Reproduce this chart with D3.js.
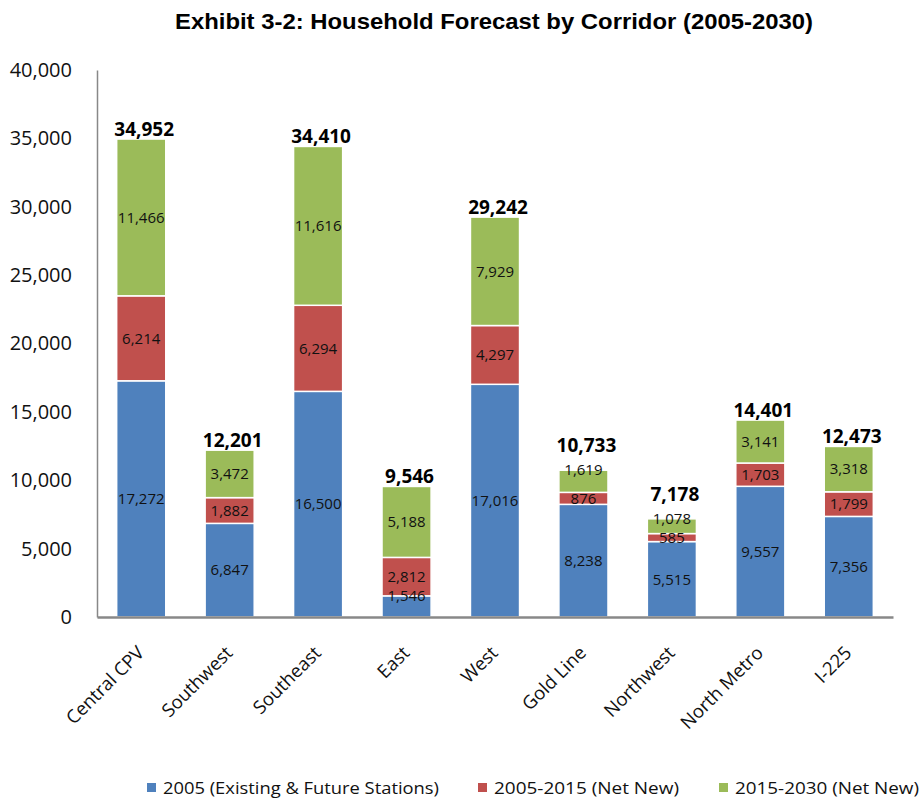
<!DOCTYPE html>
<html><head><meta charset="utf-8">
<script src="https://cdn.jsdelivr.net/npm/d3@7"></script>
<style>body{margin:0;background:#fff}svg{display:block}</style>
</head><body>
<svg id="chart" width="920" height="802"></svg>
<script>
const categories = ["Central CPV","Southwest","Southeast","East","West","Gold Line","Northwest","North Metro","I-225"];
const s2005 = [17272, 6847, 16500, 1546, 17016, 8238, 5515, 9557, 7356];
const s2015 = [6214, 1882, 6294, 2812, 4297, 876, 585, 1703, 1799];
const s2030 = [11466, 3472, 11616, 5188, 7929, 1619, 1078, 3141, 3318];
const totals = [34952, 12201, 34410, 9546, 29242, 10733, 7178, 14401, 12473];
const seriesNames = ["2005 (Existing & Future Stations)", "2005-2015 (Net New)", "2015-2030 (Net New)"];
const yTicks = [0, 5000, 10000, 15000, 20000, 25000, 30000, 35000, 40000];
const colors = ["#4F81BD", "#C0504D", "#9BBB59"];

const svg = d3.select("#chart");
const m = {left: 97, right: 893, top: 70, bottom: 617};
const x = d3.scaleBand().domain(categories).range([m.left, m.right]).paddingInner(0.445).paddingOuter(0.2225);
const y = d3.scaleLinear().domain([0, 40000]).range([m.bottom, m.top]);
const fmt = d3.format(",");

const rows = categories.map((c, i) => ({cat: c, a: s2005[i], b: s2015[i], c: s2030[i]}));
const stack = d3.stack().keys(["a", "b", "c"])(rows);

svg.append("text").attr("x", 494).attr("y", 29).attr("text-anchor", "middle")
  .attr("font-family", "Liberation Sans, Arial, sans-serif").attr("font-weight", "bold").attr("font-size", 22)
  .attr("textLength", 638).attr("lengthAdjust", "spacingAndGlyphs")
  .text("Exhibit 3-2: Household Forecast by Corridor (2005-2030)");

// y axis
const yAxis = svg.append("g").attr("transform", `translate(${m.left},0)`)
  .call(d3.axisLeft(y).tickValues(yTicks).tickFormat(fmt).tickSize(0).tickPadding(25));
yAxis.select(".domain").attr("stroke", "#888").attr("stroke-width", 1.5);
yAxis.selectAll("text").attr("font-family", "Open Sans, sans-serif").attr("font-size", 20).attr("fill", "#111");

// bars
const g = svg.append("g");
stack.forEach((layer, li) => {
  g.selectAll(null).data(layer).enter().append("rect")
    .attr("x", d => x(d.data.cat)).attr("width", x.bandwidth())
    .attr("y", d => y(d[1])).attr("height", d => y(d[0]) - y(d[1]))
    .attr("fill", colors[li]).attr("stroke", "#fff").attr("stroke-width", 1.5);
});
// segment label position: centred; small outer segments hug their top edge
function segLabelY(d, li) {
  const top = y(d[1]), bot = y(d[0]);
  if (bot - top < 25 && li !== 1) return top;
  return (top + bot) / 2;
}
const topLabelY = rows.map(() => Infinity);
stack.forEach((layer, li) => {
  g.selectAll(null).data(layer).enter().append("text")
    .attr("x", d => x(d.data.cat) + x.bandwidth() / 2)
    .attr("y", (d, i) => { const v = segLabelY(d, li); topLabelY[i] = Math.min(topLabelY[i], v); return v; })
    .attr("dy", "0.35em").attr("text-anchor", "middle")
    .attr("font-family", "Open Sans, sans-serif").attr("font-size", 15).attr("fill", "#111")
    .text(d => fmt(d[1] - d[0]));
});
g.selectAll(null).data(rows).enter().append("text")
  .attr("x", (d) => x(d.cat) + x.bandwidth() / 2 + 3)
  .attr("y", (d, i) => Math.min(y(totals[i]) - 3, topLabelY[i] - 18))
  .attr("text-anchor", "middle").attr("font-family", "Open Sans, sans-serif")
  .attr("font-weight", "bold").attr("font-size", 19).attr("fill", "#000")
  .text((d, i) => fmt(totals[i]));

// x axis
const xAxis = svg.append("g").attr("transform", `translate(0,${m.bottom})`)
  .call(d3.axisBottom(x).tickSize(0).tickSizeOuter(0));
xAxis.select(".domain").attr("stroke", "#888").attr("stroke-width", 2.5);
xAxis.selectAll("text").attr("font-family", "Open Sans, sans-serif").attr("font-size", 18.5).attr("fill", "#111")
  .attr("text-anchor", "end").attr("dy", 0).attr("y", 0)
  .attr("transform", "translate(4,37) rotate(-45)");

// legend
const legX = [147, 478, 719];
const legW = [276, 185, 184];
const lg = svg.append("g");
seriesNames.forEach((n, i) => {
  lg.append("rect").attr("x", legX[i]).attr("y", 783).attr("width", 9).attr("height", 9).attr("fill", colors[i]);
  lg.append("text").attr("x", legX[i] + 16).attr("y", 788).attr("dy", "0.35em")
    .attr("font-family", "Open Sans, sans-serif").attr("font-size", 16).attr("fill", "#111")
    .attr("textLength", legW[i]).attr("lengthAdjust", "spacingAndGlyphs").text(n);
});
</script>
</body></html>
